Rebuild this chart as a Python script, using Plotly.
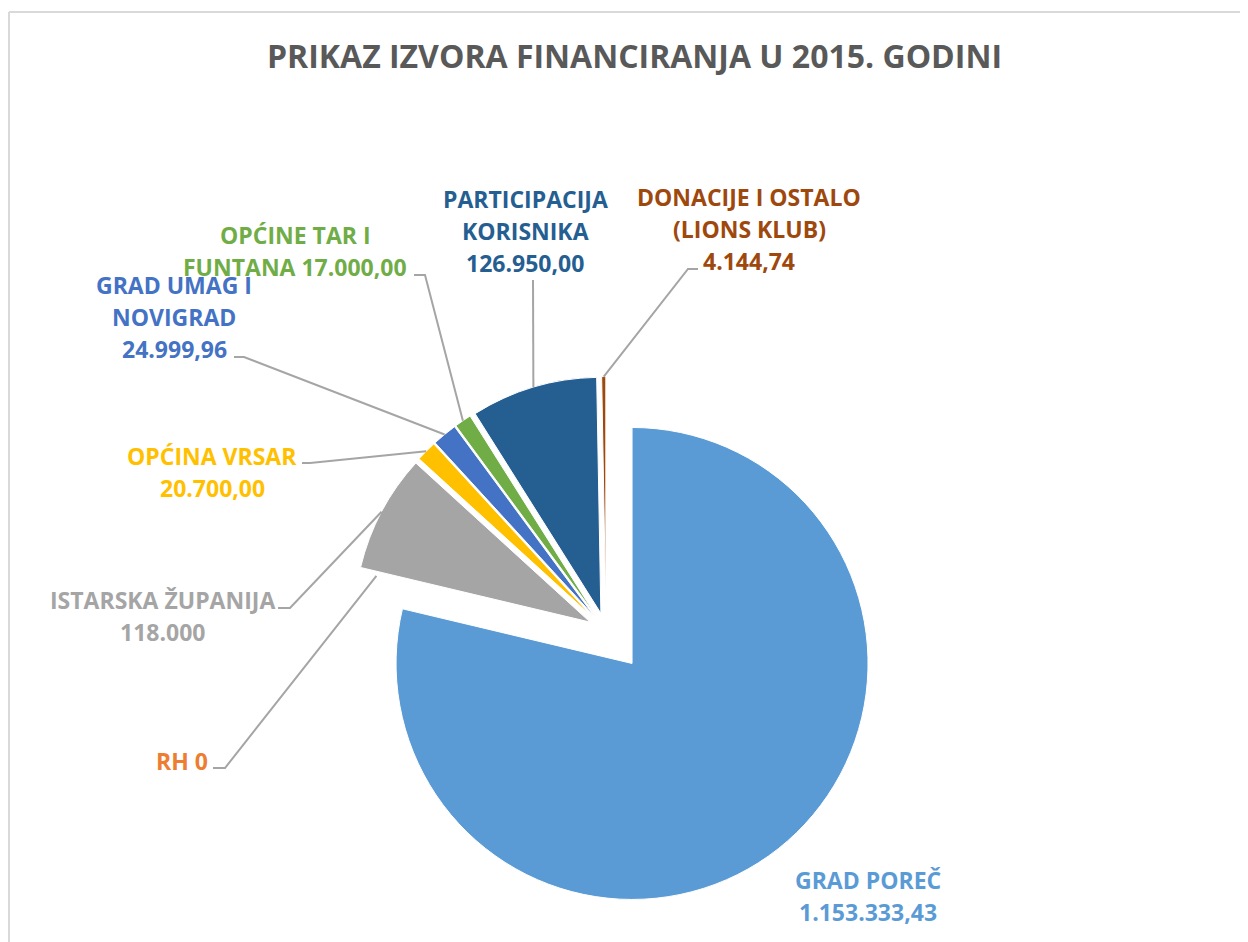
import math
import plotly.graph_objects as go

# page has an 8px body margin; the figure is sized to fill the rest
OFF = 8
W, H = 1248 - OFF, 942 - OFF

# ---- data ----
categories = ["GRAD POREČ", "RH", "ISTARSKA ŽUPANIJA", "OPĆINA VRSAR",
              "GRAD UMAG I NOVIGRAD", "OPĆINE TAR I FUNTANA",
              "PARTICIPACIJA KORISNIKA", "DONACIJE I OSTALO (LIONS KLUB)"]
values = [1153333.43, 0, 118000, 20700, 24999.96, 17000, 126950, 4144.74]
label_lines = [
    ["GRAD POREČ", "1.153.333,43"],
    ["RH 0"],
    ["ISTARSKA ŽUPANIJA", "118.000"],
    ["OPĆINA VRSAR", "20.700,00"],
    ["GRAD UMAG I", "NOVIGRAD", "24.999,96"],
    ["OPĆINE TAR I", "FUNTANA 17.000,00"],
    ["PARTICIPACIJA", "KORISNIKA", "126.950,00"],
    ["DONACIJE I OSTALO", "(LIONS KLUB)", "4.144,74"],
]
title_text = "PRIKAZ IZVORA FINANCIRANJA U 2015. GODINI"

# ---- style / layout ----
colors = ["#5B9BD5", "#ED7D31", "#A5A5A5", "#FFC000", "#4472C4",
          "#70AD47", "#255E91", "#9E480E"]
pulls = [0.178, 0.0, 0.076, 0.076, 0.076, 0.076, 0.076, 0.076]

# pie geometry in window pixels
CX, CY, R = 606.0, 630.5, 236.0
half = R * (1 + max(pulls))


def px(x):
    return (x - OFF) / W


def py(y):
    return 1 - (y - OFF) / H


dom_x = [px(CX - half), px(CX + half)]
dom_y = [py(CY + half), py(CY - half)]

# label placement (window pixels): centre x, first line centre y
label_pos = [(868, 880), (182, 761), (162, 600), (212, 456),
             (174, 285), (295, 235), (525, 199), (749, 197)]
line_gap = 32
# leader stub (label end) points: (x_label_side, x_bend, y)
stubs = [None, (213, 225, 768), (278, 290, 608), (302, 310, 463),
         (234, 244, 357), (414, 425, 275), (533, 533, 280), (698, 688, 269)]

fig = go.Figure(go.Pie(
    labels=categories, values=values, sort=False, direction="clockwise",
    rotation=0, pull=pulls, textinfo="none", hoverinfo="label+value",
    marker=dict(colors=colors, line=dict(color="white", width=1)),
    domain=dict(x=dom_x, y=dom_y), showlegend=False,
))

total = sum(values)
cum = 0.0
shapes = []
annotations = []
for i, v in enumerate(values):
    a0 = cum / total * 360
    cum += v
    a1 = cum / total * 360
    mid = math.radians((a0 + a1) / 2)
    ux, uy = math.sin(mid), -math.cos(mid)
    ax = CX + R * (1 + pulls[i]) * ux
    ay = CY + R * (1 + pulls[i]) * uy
    if stubs[i] is not None:
        sx0, sx1, sy = stubs[i]
        path = f"M {px(sx0)} {py(sy)} L {px(sx1)} {py(sy)} L {px(ax)} {py(ay)}"
        shapes.append(dict(type="path", xref="paper", yref="paper", path=path,
                           line=dict(color="#A5A5A5", width=2)))
    lx, ly = label_pos[i]
    for k, t in enumerate(label_lines[i]):
        annotations.append(dict(
            x=px(lx), y=py(ly + k * line_gap), xref="paper", yref="paper",
            text=f"<b>{t}</b>", showarrow=False, xanchor="center",
            yanchor="middle", borderpad=0,
            font=dict(family="Open Sans", size=23, color=colors[i])))

annotations.append(dict(
    x=px(634), y=py(56), xref="paper", yref="paper",
    text=f"<b>{title_text}</b>", showarrow=False, xanchor="center",
    yanchor="middle", font=dict(family="Open Sans", size=32, color="#595959")))

# chart frame (top and left edges visible)
shapes.append(dict(type="line", xref="paper", yref="paper",
                   x0=px(9), x1=1, y0=py(12), y1=py(12),
                   line=dict(color="#D9D9D9", width=2)))
shapes.append(dict(type="line", xref="paper", yref="paper",
                   x0=px(9), x1=px(9), y0=py(12), y1=0,
                   line=dict(color="#D9D9D9", width=2)))

fig.update_layout(
    width=W, height=H, margin=dict(l=0, r=0, t=0, b=0),
    paper_bgcolor="white", plot_bgcolor="white",
    shapes=shapes, annotations=annotations,
)
fig.write_html("out.html")
